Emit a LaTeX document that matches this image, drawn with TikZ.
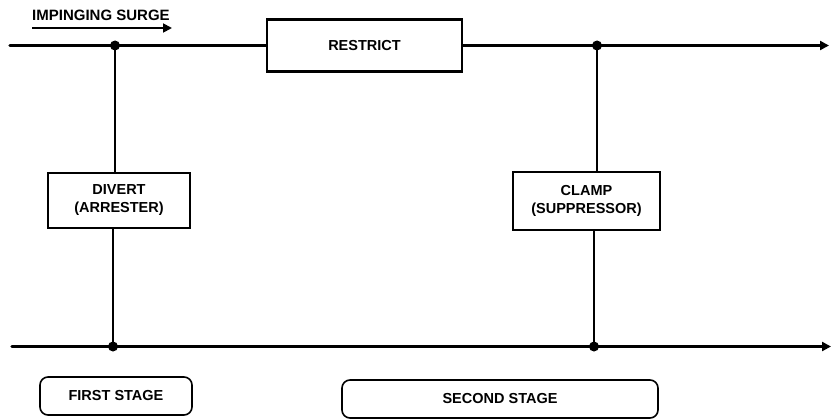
\documentclass[tikz,border=0pt]{standalone}
\usepackage{fontspec}
\setmainfont{Liberation Sans}
\usetikzlibrary{arrows.meta}
\begin{document}
\begin{tikzpicture}[x=1pt,y=-1pt,
  wire/.style={line width=3.4pt,line cap=round},
  vwire/.style={line width=2.4pt},
  arr/.style={-{Triangle[length=9pt,width=9pt]}},
  blk/.style={draw,line width=2.6pt,inner sep=0pt,align=center,font=\bfseries\fontsize{14.5}{18}\selectfont},
  stage/.style={draw,line width=1.6pt,rounded corners=8pt,inner sep=0pt,font=\bfseries\fontsize{14.5}{17}\selectfont},
  dot/.style={circle,fill,inner sep=0pt,minimum size=10pt}]
\useasboundingbox (0,0) rectangle (832,420);
% boxes
\node[blk,minimum width=195pt,minimum height=52pt] (restrict) at (364.5,45.5) {RESTRICT};
\node[blk,minimum width=142pt,minimum height=55pt] (divert) at (119,200.5) {DIVERT\\(ARRESTER)};
\node[blk,minimum width=147pt,minimum height=58pt] (clamp) at (586.5,201) {CLAMP\\(SUPPRESSOR)};
\node[stage,minimum width=152pt,minimum height=38pt] (first) at (116,396) {FIRST STAGE};
\node[stage,minimum width=316pt,minimum height=38pt] (second) at (500,399) {SECOND STAGE};
\node[font=\bfseries\fontsize{15}{17}\selectfont,anchor=west,inner sep=0pt] (imp) at (32,15) {IMPINGING SURGE};
% coordinates
\coordinate (tl) at (10,45.5);
\coordinate (tr) at (829,45.5);
\coordinate (bl) at (12,346.5);
\coordinate (br) at (831,346.5);
\coordinate (j1) at (115,45.5);
\coordinate (j2) at (597,45.5);
\coordinate (j3) at (113,346.5);
\coordinate (j4) at (594,346.5);
\coordinate (s1) at (32,28);
\coordinate (s2) at (172,28);
% lines
\draw[wire] (tl) -- (restrict.west);
\draw[wire,arr] (restrict.east) -- (tr);
\draw[wire,arr] (bl) -- (br);
\draw[line width=1.8pt,arr] (s1) -- (s2);
\draw[vwire] (j1) -- (j1 |- divert.north);
\draw[vwire] (j3 |- divert.south) -- (j3);
\draw[vwire] (j2) -- (j2 |- clamp.north);
\draw[vwire] (j4 |- clamp.south) -- (j4);
\node[dot] at (j1) {};
\node[dot] at (j2) {};
\node[dot] at (j3) {};
\node[dot] at (j4) {};
\end{tikzpicture}
\end{document}
